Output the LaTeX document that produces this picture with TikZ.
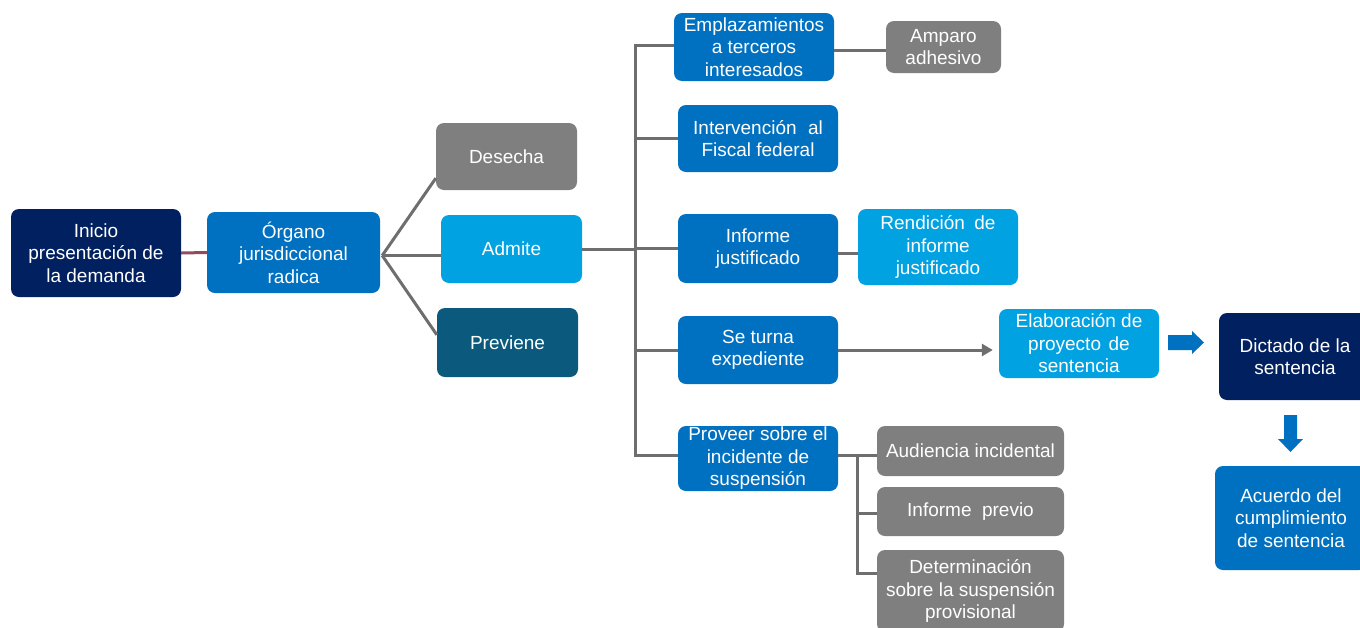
\documentclass[tikz,border=0pt]{standalone}
\usepackage{fontspec}
\setmainfont{Liberation Sans}
\usetikzlibrary{calc,arrows.meta}

\definecolor{navy}{RGB}{0,32,96}
\definecolor{midblue}{RGB}{0,112,192}
\definecolor{skyblue}{RGB}{0,162,226}
\definecolor{deepteal}{RGB}{11,90,126}
\definecolor{boxgray}{RGB}{127,127,127}
\definecolor{linkgray}{RGB}{110,110,110}
\definecolor{mauve}{RGB}{145,75,95}

\tikzset{
  box/.style={rounded corners=8pt, text=white, align=center, inner sep=1pt,
    font=\fontsize{19}{22.5}\selectfont},
  link/.style={draw=linkgray, line width=3pt},
  blockarrow/.style={fill=midblue, draw=none},
}

% \bx{name}{x1}{y1}{x2}{y2}{colour}{text}: a box given by its corners
\newcommand\bx[7]{%
  \node[box, fill=#6, minimum width={#4-#2}, minimum height={#5-#3}]
    (#1) at ({(#2+#4)/2},{(#3+#5)/2}) {#7};}

\begin{document}
\begin{tikzpicture}[x=1pt,y=-1pt]
\useasboundingbox (0,0) rectangle (1360,627);

% first stage
\bx{inicio}{11}{209}{181}{297}{navy}{Inicio\\presentación de\\la demanda}
\bx{organo}{207}{212}{380}{293}{midblue}{Órgano\\jurisdiccional\\radica}
\bx{desecha}{436}{123}{577}{190}{boxgray}{Desecha}
\bx{admite}{441}{215}{582}{283}{skyblue}{Admite}
\bx{previene}{437}{308}{578}{377}{deepteal}{Previene}

% steps after admission
\bx{emplaz}{674}{13}{834}{81}{midblue}{Emplazamientos\\a terceros\\interesados}
\bx{amparo}{886}{21}{1001}{73}{boxgray}{Amparo\\adhesivo}
\bx{interv}{678}{105}{838}{172}{midblue}{Intervención\hspace{0.6em}al\\Fiscal federal}
\bx{informe}{678}{214}{838}{283}{midblue}{Informe\\justificado}
\bx{rendicion}{858}{209}{1018}{285}{skyblue}{Rendición\hspace{0.5em}de\\informe\\justificado}
\bx{seturna}{678}{316}{838}{384}{midblue}{Se turna\\expediente}
\bx{elabor}{999}{309}{1159}{378}{skyblue}{\fontsize{19}{24}\selectfont Elaboración de\\proyecto\hspace{0.4em}de\\sentencia}
\bx{dictado}{1219}{313}{1371}{400}{navy}{Dictado de la\\sentencia}
\bx{acuerdo}{1215}{466}{1367}{570}{midblue}{\fontsize{19}{23}\selectfont Acuerdo del\\cumplimiento\\de sentencia}
\bx{proveer}{678}{426}{838}{491}{midblue}{\fontsize{19}{20}\selectfont Proveer sobre el\\incidente de\\suspensión}

% suspension incident
\bx{audiencia}{877}{426}{1064}{476}{boxgray}{Audiencia incidental}
\bx{previo}{877}{487}{1064}{536}{boxgray}{Informe\hspace{0.55em}previo}
\bx{determ}{877}{550}{1064}{632}{boxgray}{\fontsize{19}{23.5}\selectfont Determinación\\sobre la suspensión\\provisional}

% connectors of the first stage
\draw[draw=mauve, line width=3pt] (inicio.east) -- (organo.west);
\coordinate (fan) at ($(organo.east)+(2,3)$);
\draw[link] (fan) -- ($(desecha.south west)+(0,-12)$);
\draw[link] (fan) -- (fan -| admite.west);
\draw[link] (fan) -- ($(previene.north west)+(0,27)$);

% trunk joining the steps after admission
\coordinate (trunk) at (635,0);
\draw[link] (admite.east) -- (admite.east -| trunk);
\draw[link, line join=miter] ($(emplaz.west)+(0,-2)$) -| ($(proveer.west -| trunk)+(0,-3)$) -- ($(proveer.west)+(0,-3)$);
\draw[link] (interv.west -| trunk) -- (interv.west);
\draw[link] (informe.west -| trunk) -- (informe.west);
\draw[link] (seturna.west -| trunk) -- (seturna.west);

\draw[link] ($(emplaz.east)+(0,3)$) -- ($(amparo.west)+(0,3)$);
\draw[link] ($(informe.east)+(0,5)$) -- ($(informe.east -| rendicion.west)+(0,5)$);
\draw[link, -{Triangle[length=11pt,width=12pt]}, shorten >=6pt] (seturna.east) -- (seturna.east -| elabor.west);

% branches of the suspension incident
\coordinate (sub) at (857,0);
\draw[link] ($(proveer.east)+(0,-3)$) -- ($(proveer.east -| audiencia.west)+(0,-3)$);
\draw[link, line join=miter] ($(sub |- proveer.east)+(0,-3)$) |- ($(determ.north west)+(0,24)$);
\draw[link] ($(sub |- previo.west)+(0,2)$) -- ($(previo.west)+(0,2)$);

% block arrows towards and from the ruling
\fill[blockarrow] (1168,335) -- (1192,335) -- (1192,331) -- (1204,342.5)
  -- (1192,354) -- (1192,350) -- (1168,350) -- cycle;
\fill[blockarrow] (1284,415) -- (1297,415) -- (1297,439) -- (1303,439)
  -- (1290.5,452) -- (1278,439) -- (1284,439) -- cycle;
\end{tikzpicture}
\end{document}
